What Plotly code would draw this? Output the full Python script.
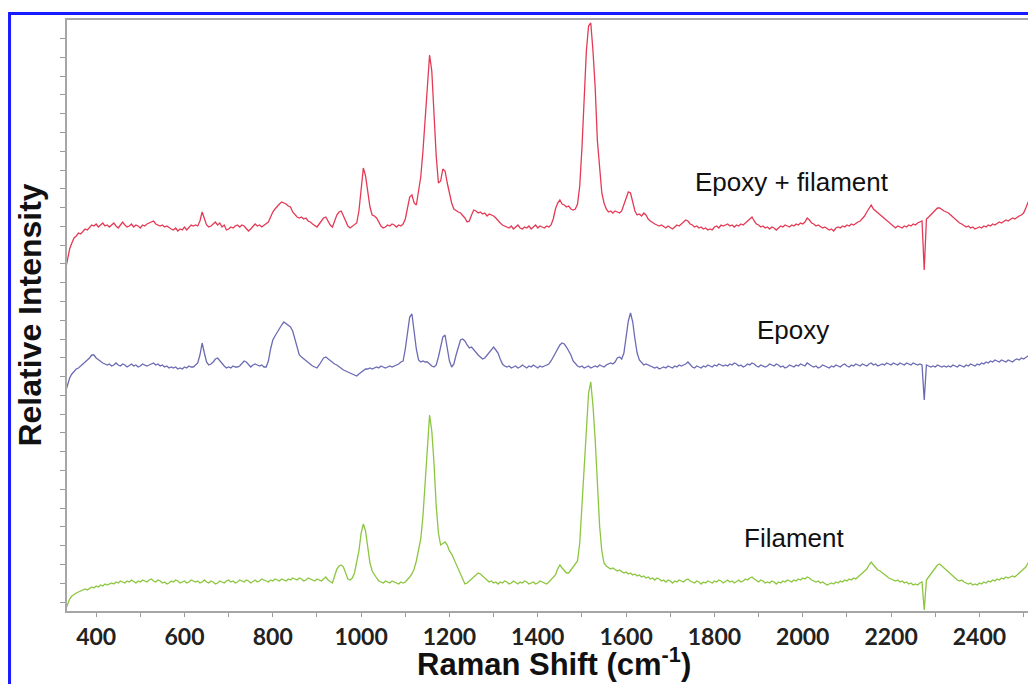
import plotly.graph_objects as go

# Raman shift sampling grid (cm^-1), 5 cm^-1 steps
wavenumber = list(range(330, 2530, 5))

# Relative intensities (arbitrary units, traces vertically offset as in the figure)
epoxy_filament = [
    340,352,362,368,373,375,378,377,380,382,381,384,386,385,387,384,386,388,385,386,
    384,386,388,385,383,386,389,386,384,385,387,384,386,385,383,386,385,387,388,389,
    390,387,386,385,386,384,385,383,382,381,383,380,382,381,384,381,383,386,385,386,
    385,390,399,393,386,384,385,387,389,386,388,384,386,381,382,384,383,385,386,384,
    386,385,383,380,382,385,387,385,386,384,386,387,389,394,399,402,405,407,409,408,
    407,405,404,399,396,394,393,394,392,393,390,389,387,385,384,387,390,393,394,390,
    386,384,390,396,399,400,395,390,385,383,385,386,388,400,425,443,435,418,404,396,
    395,393,389,385,383,384,386,385,387,386,384,386,385,387,392,402,414,416,408,406,
    418,434,460,496,530,556,540,490,455,428,430,442,440,428,418,408,402,400,399,398,
    396,393,389,390,396,401,400,398,399,397,398,395,397,396,395,393,390,388,386,385,
    384,383,385,382,384,386,383,382,384,383,385,382,384,386,383,385,384,383,385,384,
    386,392,402,408,411,407,406,404,405,402,401,402,407,425,463,510,560,585,588,560,
    523,470,440,418,408,402,399,400,398,400,399,398,400,406,414,419,418,410,400,396,
    397,395,398,396,392,390,388,387,386,385,386,384,383,385,383,382,384,386,385,387,
    388,391,390,387,386,384,385,383,384,382,383,381,382,381,384,385,383,386,385,386,
    387,385,386,384,386,385,387,386,388,390,392,394,390,387,386,384,385,383,384,382,
    384,383,381,383,385,384,386,385,384,386,385,387,386,388,387,389,393,391,388,387,
    385,386,384,383,384,382,381,382,380,383,384,383,385,384,386,385,387,386,388,389,
    390,392,395,399,403,406,402,400,398,396,394,392,390,389,386,384,383,385,384,383,
    385,384,386,385,387,386,388,389,390,341,392,394,396,398,401,403,403,401,400,399,
    398,396,394,391,389,388,387,385,384,385,383,384,382,383,384,383,385,384,386,385,
    387,386,388,389,388,390,391,390,392,393,392,394,395,396,398,403,409,414,418,421,
]

epoxy = [
    218,226,233,237,240,242,243,245,246,248,250,253,256,256,253,251,249,248,247,246,
    247,245,246,248,246,245,247,246,244,246,247,245,246,244,245,247,246,245,246,247,
    248,246,247,245,246,244,245,243,244,243,244,242,243,242,244,243,245,244,244,246,
    248,256,268,258,249,246,247,249,252,253,250,247,245,243,244,243,245,244,244,245,
    247,250,249,246,244,246,247,246,245,246,244,244,250,262,271,275,279,282,286,289,
    287,285,284,280,272,262,256,254,252,251,249,247,245,244,243,246,250,253,254,252,
    250,249,247,246,244,242,241,240,239,238,237,236,235,237,239,241,242,242,243,242,
    243,244,243,245,244,243,244,245,244,245,246,247,249,250,262,280,294,297,280,262,
    251,249,250,249,249,247,245,244,246,254,265,274,276,262,250,244,247,256,264,271,
    272,270,266,263,264,261,259,256,254,252,253,256,259,262,264,261,258,252,247,245,
    244,245,243,244,245,243,244,246,244,243,245,244,246,244,243,245,244,245,246,247,
    250,254,259,263,266,268,267,264,260,256,250,247,245,244,245,243,244,245,243,244,
    245,244,246,245,244,246,247,248,247,249,253,254,252,258,274,290,298,289,272,258,
    251,248,246,247,246,245,244,243,244,242,243,244,243,245,244,243,245,244,246,245,
    246,247,249,246,244,243,245,244,243,245,244,246,245,244,246,245,247,246,245,246,
    245,247,246,248,247,245,246,244,245,247,246,248,247,245,244,246,245,244,245,247,
    246,245,247,246,244,245,243,244,246,245,244,246,245,247,246,245,248,246,245,244,
    245,243,244,246,245,244,243,245,244,246,245,244,246,247,245,244,246,245,247,246,
    245,247,246,245,247,248,246,247,245,246,247,246,248,247,246,248,247,246,248,247,
    246,248,247,246,248,247,246,247,246,211,246,245,244,245,244,246,245,244,245,244,
    245,244,246,245,244,246,245,244,246,245,247,246,245,247,246,248,247,249,248,250,
    249,251,250,249,251,250,249,251,250,249,251,252,251,253,252,254,255,256,257,258,
]

filament = [
    0,6,12,15,17,18,19,20,21,22,21,23,24,23,25,24,26,25,27,26,
    27,28,27,29,28,30,29,28,30,29,31,29,28,30,29,31,30,29,31,32,
    30,29,31,30,28,29,27,28,30,29,31,30,28,29,30,28,29,31,30,29,
    30,28,29,31,29,28,30,29,27,28,30,29,28,30,31,29,30,28,29,31,
    30,29,31,30,28,30,31,29,30,32,31,30,29,31,30,32,31,30,32,31,
    30,32,31,33,32,31,33,32,30,31,33,32,31,30,32,31,30,32,34,31,
    29,28,35,42,45,46,44,38,32,31,33,38,48,60,78,87,80,62,48,40,
    36,33,30,29,28,30,29,28,30,29,28,27,29,28,29,31,34,37,42,50,
    60,72,95,128,168,196,180,148,105,78,66,68,69,66,60,57,52,46,41,37,
    31,27,28,30,32,35,37,38,37,35,33,31,29,30,28,29,27,29,28,30,
    29,27,28,30,28,27,29,28,30,29,27,28,29,27,28,30,29,28,27,29,
    31,33,36,42,46,43,40,38,38,41,44,46,50,68,104,140,180,218,229,205,
    171,120,85,60,48,45,43,42,43,41,40,41,39,38,39,37,38,36,37,35,
    36,34,35,33,34,32,33,31,33,32,30,31,29,31,30,28,30,29,31,30,
    29,31,32,30,29,28,30,29,27,29,28,30,29,28,30,29,31,30,28,30,
    31,29,30,28,30,31,29,30,32,31,33,34,32,30,29,31,30,28,29,28,
    30,29,27,29,28,30,29,31,30,29,31,30,32,31,33,32,34,33,31,30,
    29,30,28,29,27,26,27,28,27,29,28,30,29,31,30,32,31,33,32,34,
    35,37,39,42,46,49,46,43,41,40,38,36,35,33,32,31,30,31,29,30,
    28,29,27,28,26,27,26,28,29,1,31,34,37,40,44,46,47,45,43,40,
    38,36,34,32,31,30,31,29,28,27,28,26,27,26,28,27,29,28,30,29,
    31,30,32,31,33,32,34,33,34,35,34,36,37,39,41,44,48,52,55,58,
]

series_names = ["Epoxy + filament", "Epoxy", "Filament"]
tick_values = [400, 600, 800, 1000, 1200, 1400, 1600, 1800, 2000, 2200, 2400]
tick_labels = [str(v) for v in tick_values]

assert len(epoxy_filament) == len(wavenumber)
assert len(epoxy) == len(wavenumber)
assert len(filament) == len(wavenumber)

colors = ["#E43A55", "#6B6BB5", "#8CC63F"]

fig = go.Figure()
for name, vals, col in zip(series_names, [epoxy_filament, epoxy, filament], colors):
    fig.add_trace(go.Scatter(x=wavenumber, y=vals, mode="lines", name=name,
                             line=dict(color=col, width=1.3), showlegend=False))

label_font = dict(family="Liberation Sans, Arial, sans-serif", size=26, color="#111111")
label_pos = {"Epoxy + filament": (1976, 429), "Epoxy": (1978, 281), "Filament": (1980, 73)}
annotations = []
for name in series_names:
    x, y = label_pos[name]
    annotations.append(dict(x=x, y=y, xref="x", yref="y", text=name, showarrow=False,
                            xanchor="center", yanchor="middle", font=label_font))

annotations.append(dict(x=-0.0395, y=0.50, xref="paper", yref="paper",
                        text="<b>Relative Intensity</b>", textangle=-90, showarrow=False,
                        xanchor="center", yanchor="middle",
                        font=dict(family="Liberation Sans, Arial, sans-serif", size=32, color="#111111")))
annotations.append(dict(x=0.507, y=-0.086, xref="paper", yref="paper",
                        text="<b>Raman Shift (cm<sup>-1</sup>)</b>", showarrow=False,
                        xanchor="center", yanchor="middle",
                        font=dict(family="Liberation Sans, Arial, sans-serif", size=31, color="#111111")))

fig.update_layout(
    width=1028, height=684,
    margin=dict(l=67, r=0, t=20, b=73),
    paper_bgcolor="white", plot_bgcolor="white",
    annotations=annotations,
    shapes=[dict(type="rect", xref="paper", yref="paper",
                 x0=-0.0598, x1=1.2, y0=-0.3, y1=1.011,
                 line=dict(color="#1a1aff", width=3), fillcolor="rgba(0,0,0,0)")],
    xaxis=dict(range=[334, 2510], tickmode="array", tickvals=tick_values, ticktext=tick_labels,
               ticks="outside", ticklen=4, tickwidth=1, tickcolor="#9a9a9a",
               showline=True, linecolor="#a6a6a6", linewidth=2, mirror=True,
               showgrid=False, zeroline=False,
               tickfont=dict(family="Lato, sans-serif", size=23, color="#222222", weight="bold"),
               minor=dict(ticks="outside", ticklen=4, tickcolor="#9a9a9a", dtick=100, tick0=0)),
    yaxis=dict(range=[0, 591], tickmode="linear", tick0=9, dtick=18.78,
               ticks="outside", ticklen=5, tickwidth=1, tickcolor="#9a9a9a",
               showticklabels=False, showline=True, linecolor="#a6a6a6", linewidth=2,
               showgrid=False, zeroline=False),
)

fig.write_html("out.html", config={"displayModeBar": False},
               post_script="document.body.style.margin='0';document.body.style.overflow='hidden';")
